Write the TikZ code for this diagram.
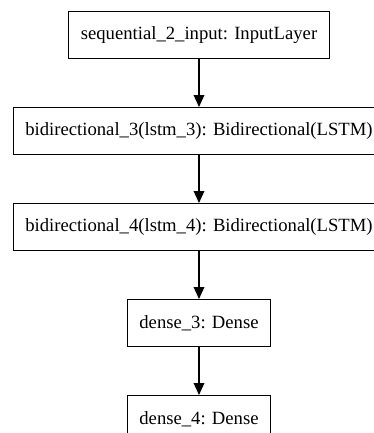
\documentclass[tikz,border=0pt]{standalone}
\usepackage{fontspec}
\setmainfont{Liberation Serif}
\usetikzlibrary{positioning,arrows.meta}

\begin{document}
\begin{tikzpicture}[x=0.75pt,y=-0.75pt,
  layer/.style={rectangle, draw, line width=1pt, minimum height=35pt, inner xsep=9pt, font=\fontsize{14}{16}\selectfont},
  flow/.style={-{Triangle[length=9pt,width=8pt]}, line width=1pt},
  node distance=36pt]
  \clip (0,0) rectangle (374,433);
  \node[layer] (input) at (199,35) {sequential\_2\_input: InputLayer};
  \node[layer, below=of input] (bilstm3) {bidirectional\_3(lstm\_3): Bidirectional(LSTM)};
  \node[layer, below=of bilstm3] (bilstm4) {bidirectional\_4(lstm\_4): Bidirectional(LSTM)};
  \node[layer, below=of bilstm4] (dense3) {dense\_3: Dense};
  \node[layer, below=of dense3] (dense4) {dense\_4: Dense};
  \draw[flow] (input) -- (bilstm3);
  \draw[flow] (bilstm3) -- (bilstm4);
  \draw[flow] (bilstm4) -- (dense3);
  \draw[flow] (dense3) -- (dense4);
\end{tikzpicture}
\end{document}
